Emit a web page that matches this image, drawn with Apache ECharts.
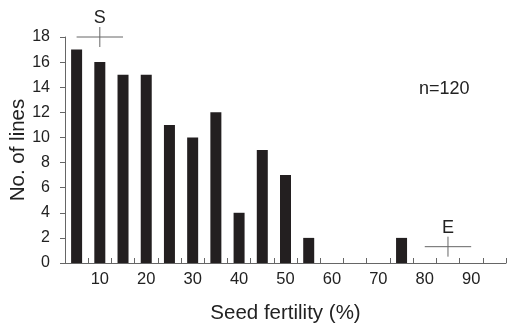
<!DOCTYPE html>
<html>
<head>
<meta charset="utf-8">
<script src="https://cdn.jsdelivr.net/npm/echarts@6/dist/echarts.min.js"></script>
<style>
  html, body { margin: 0; padding: 0; background: #fff; }
  #chart { width: 516px; height: 334px; }
</style>
</head>
<body>
<div id="chart"></div>
<script>
// seed fertility classes (%) and number of lines in each
var fertilityBins = ['5', '10', '15', '20', '25', '30', '35', '40', '45', '50',
                     '55', '60', '65', '70', '75', '80', '85', '90', '95'];
var lineCounts = [17, 16, 15, 15, 11, 10, 12, 4, 9, 7, 2, 0, 0, 0, 2, 0, 0, 0, 0];

// mean +- range markers for the parents
var markerNames = ['S', 'E'];
var markerMeans = [10, 85];
var markerLows = [5, 80];
var markerHighs = [15, 90];
var markerLevels = [18, 1.3];

var FONT = 'Liberation Sans, Arial, sans-serif';

var markerData = markerNames.map(function (n, i) {
    return { name: n, value: [markerMeans[i], markerLows[i], markerHighs[i], markerLevels[i]] };
});

var chart = echarts.init(document.getElementById('chart'));

chart.setOption({
    animation: false,
    backgroundColor: '#fff',
    title: {
        text: 'n=120',
        left: 414,
        top: 75,
        textStyle: { fontFamily: FONT, fontSize: 18, fontWeight: 'normal', color: '#222' }
    },
    grid: { left: 65, right: 10, top: 37, bottom: 71, containLabel: false, outerBoundsMode: 'none' },
    xAxis: [
        {
            type: 'category',
            data: fertilityBins,
            boundaryGap: true,
            name: 'Seed fertility (%)',
            nameLocation: 'middle',
            nameGap: 40,
            nameMoveOverlap: false,
            nameTextStyle: { fontFamily: FONT, fontSize: 20.5, color: '#222' },
            axisLine: { lineStyle: { color: '#666', width: 1 } },
            axisTick: { show: true, inside: true, length: 5, interval: 0, lineStyle: { color: '#666' } },
            axisLabel: {
                interval: function (idx, val) { return (+val) % 10 === 0 && +val < 95; },
                fontFamily: FONT, fontSize: 16.5, color: '#222', margin: 8
            },
            splitLine: { show: false }
        },
        {
            type: 'value',
            min: 2.5,
            max: 97.5,
            show: false
        }
    ],
    yAxis: {
        type: 'value',
        min: 0,
        max: 18,
        interval: 2,
        name: 'No. of lines',
        nameLocation: 'middle',
        nameGap: 36,
        nameMoveOverlap: false,
        nameTextStyle: { fontFamily: FONT, fontSize: 20.5, color: '#222' },
        axisLine: { show: true, lineStyle: { color: '#666', width: 1 } },
        axisTick: { show: true, length: 5, lineStyle: { color: '#666' } },
        axisLabel: { fontFamily: FONT, fontSize: 16, color: '#222', margin: 15 },
        splitLine: { show: false }
    },
    series: [
        {
            type: 'bar',
            data: lineCounts,
            barWidth: 11,
            itemStyle: { color: '#231f20' }
        },
        {
            type: 'custom',
            xAxisIndex: 1,
            clip: false,
            data: markerData,
            renderItem: function (params, api) {
                var x = api.value(0), lo = api.value(1), hi = api.value(2), y = api.value(3);
                var c = api.coord([x, y]);
                var l = api.coord([lo, y]);
                var r = api.coord([hi, y]);
                var half = 10;
                var st = { stroke: '#666', lineWidth: 1 };
                return {
                    type: 'group',
                    children: [
                        { type: 'line', shape: { x1: l[0], y1: l[1], x2: r[0], y2: r[1] }, style: st },
                        { type: 'line', shape: { x1: c[0], y1: c[1] - half, x2: c[0], y2: c[1] + half }, style: st },
                        {
                            type: 'text',
                            x: c[0], y: c[1] - half,
                            style: {
                                text: markerNames[params.dataIndex],
                                fontFamily: FONT, fontSize: 18, fill: '#222',
                                align: 'center', verticalAlign: 'bottom'
                            }
                        }
                    ]
                };
            }
        }
    ]
});
</script>
</body>
</html>
